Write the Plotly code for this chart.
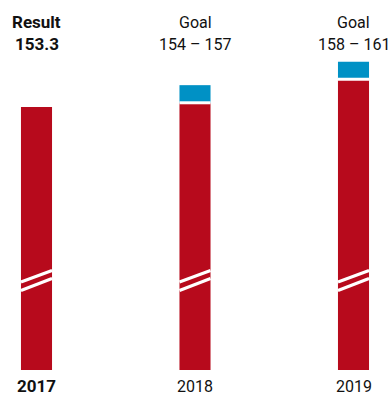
import plotly.graph_objects as go

years = ["2017", "2018", "2019"]
year_labels = ["<b>2017</b>", "2018", "2019"]
bar_values = [153.3, 154, 158]          # red bars (result / lower goal bound)
goal_low = [None, 154, 158]
goal_high = [None, 157, 161]
top_line1 = ["<b>Result</b>", "Goal", "Goal"]
top_line2 = ["<b>153.3</b>", "154 – 157", "158 – 161"]

RED = "#b70a1c"
BLUE = "#0091c5"
FONT = "Roboto, 'DejaVu Sans', sans-serif"
W = 0.196
xs = list(range(len(years)))

fig = go.Figure()
fig.add_trace(go.Bar(x=xs, y=bar_values, width=W, marker=dict(color=RED, line=dict(width=0)),
                     hoverinfo="skip", showlegend=False))
gx = [x for x, g in zip(xs, goal_low) if g is not None]
gb = [g for g in goal_low if g is not None]
gh = [h - l for h, l in zip([h for h in goal_high if h is not None], gb)]
fig.add_trace(go.Bar(x=gx, y=gh, base=gb, width=W,
                     marker=dict(color=BLUE, line=dict(width=0)),
                     hoverinfo="skip", showlegend=False))

shapes = []
for x in xs:
    for (y0, y1) in [(0.2378, 0.2689), (0.2149, 0.2473)]:
        shapes.append(dict(type="line", xref="x", yref="paper",
                           x0=x - W / 2, x1=x + W / 2, y0=y0, y1=y1,
                           line=dict(color="white", width=3), layer="above"))
for x, g in zip(gx, gb):
    shapes.append(dict(type="line", xref="x", yref="y", x0=x - W / 2, x1=x + W / 2,
                       y0=g, y1=g, line=dict(color="white", width=3), layer="above"))

annotations = []
for i, (x, a, b, yl) in enumerate(zip(xs, top_line1, top_line2, year_labels)):
    fs = 17 if i == 0 else 16
    annotations.append(dict(x=x, y=1, xref="x", yref="paper", text=a, showarrow=False,
                            yanchor="middle", yshift=-22, font=dict(size=fs, color="#111111", family=FONT)))
    annotations.append(dict(x=x, y=1, xref="x", yref="paper", text=b, showarrow=False,
                            yanchor="middle", yshift=-44, font=dict(size=fs, color="#111111", family=FONT)))
    annotations.append(dict(x=x, y=0, xref="x", yref="paper", text=yl, showarrow=False,
                            yanchor="middle", yshift=-16, font=dict(size=fs, color="#111111", family=FONT)))

fig.update_layout(
    width=390, height=397,
    margin=dict(l=0, r=0, t=0, b=27),
    paper_bgcolor="white", plot_bgcolor="white",
    barmode="overlay",
    xaxis=dict(range=[-0.2303, 2.2303], visible=False, fixedrange=True),
    yaxis=dict(range=[108.5, 171.5], visible=False, fixedrange=True),
    shapes=shapes, annotations=annotations,
)
fig.write_html("out.html", config={"displayModeBar": False},
               post_script="document.body.style.margin='0';document.body.style.overflow='hidden';")
